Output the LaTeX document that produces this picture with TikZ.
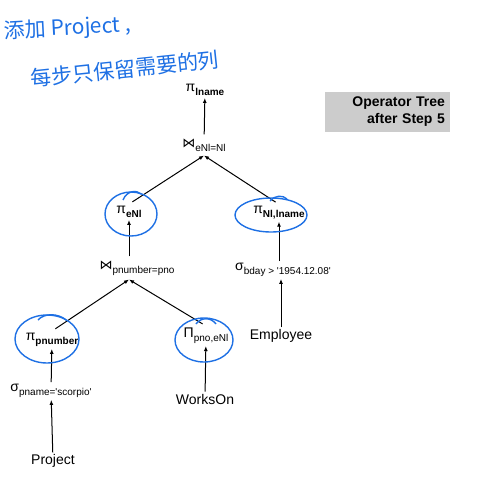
\documentclass[tikz,border=0pt]{standalone}
\usepackage{fontspec}
\setmainfont{Liberation Sans}
\newfontfamily\symfont{DejaVu Sans}
\newfontfamily\cjkhand{Noto Sans CJK SC}
\usetikzlibrary{arrows.meta, positioning, calc}
\definecolor{inkblue}{RGB}{30,112,228}
\definecolor{boxgray}{RGB}{204,204,204}
\newcommand{\lowsub}[1]{\raisebox{-4pt}{\fontsize{10}{12}\selectfont #1}}
\newcommand{\boldsub}[1]{\lowsub{\bfseries #1}}
\newcommand{\joinop}{{\symfont\fontsize{13}{15}\selectfont ⋈}}
\newcommand{\q}{\textquotesingle}

\begin{document}
\begin{tikzpicture}[
  x=1pt, y=-1pt,
  op/.style={font=\fontsize{14}{16}\selectfont, inner sep=2pt},
  jn/.style={op, inner sep=4pt},
  rel/.style={font=\fontsize{14}{16}\selectfont, inner sep=2pt},
  pr/.style={-{Latex[length=5pt, width=4pt]}, line width=1pt},
  ink/.style={draw=inkblue, line width=1.4pt},
  hand/.style={text=inkblue, font=\cjkhand\fontsize{21}{24}\selectfont, inner sep=0pt},
  tag/.style={fill=boxgray, font=\fontsize{14}{17}\selectfont\bfseries, align=right,
              text width=115pt, minimum height=40pt, inner sep=5pt}
]
  \useasboundingbox (0,0) rectangle (477,499);

  % handwritten note
  \node[hand, anchor=west, rotate=3] (note1) at (4,32) {添加 Project ,};
  \node[hand, rotate=6] (note2) at (125,69) {每步只保留需要的列};

  \node[tag] (title) at (387.5,112) {Operator Tree\\after Step 5};

  % operator tree
  \node[op] (plname) at (205,90) {π\boldsub{lname}};
  \node[jn] (join1) at (204,145) {\joinop\lowsub{eNl=Nl}};
  \node[op] (peNl) at (129,212) {π\boldsub{eNl}};
  \node[op] (pNl) at (279,213) {π\boldsub{Nl,lname}};
  \node[jn] (join2) at (137,268) {\joinop\lowsub{pnumber=pno}};
  \node[op] (sbday) at (283,270) {σ\lowsub{bday > \q1954.12.08\q}};
  \node[rel] (emp) at (281,336) {Employee};
  \node[op] (ppnum) at (52,340) {π\boldsub{pnumber}};
  \node[op] (ppno) at (206,336) {Π\lowsub{pno,eNl}};
  \node[op] (spname) at (51,391) {σ\lowsub{pname=\q scorpio\q}};
  \node[rel] (works) at (205,399) {WorksOn};
  \node[rel] (proj) at (53,461) {Project};

  \draw[pr] (join1) -- (plname);
  \draw[pr, shorten <=4pt] (peNl.north) -- (join1.south);
  \draw[pr, shorten <=4pt] (pNl.north) -- (join1.south);
  \draw[pr] (join2.north -| peNl) -- (peNl);
  \draw[pr] (sbday.north -| pNl) -- (pNl);
  \draw[pr] (emp) -- (emp |- sbday.south);
  \draw[pr, shorten <=4pt] (ppnum.north) -- (join2.south -| peNl);
  \draw[pr, shorten <=4pt] (ppno.north) -- (join2.south -| peNl);
  \draw[pr] (spname) -- (ppnum);
  \draw[pr] (works) -- (ppno);
  \draw[pr] (proj) -- (spname);

  % blue marks
  \draw[ink] ($(peNl)+(2,2)$) ellipse [x radius=26pt, y radius=22pt];
  \draw[ink] ($(peNl)+(-6,-12)$) .. controls ($(peNl)+(-2,-22)$) and ($(peNl)+(8,-22)$) .. ($(peNl)+(12,-18)$);
  \draw[ink] ($(pNl)+(-8,2)$) ellipse [x radius=36pt, y radius=17pt];
  \draw[ink] ($(pNl)+(-9,-12)$) .. controls ($(pNl)+(-4,-18)$) and ($(pNl)+(4,-18)$) .. ($(pNl)+(8,-14)$);
  \draw[ink] ($(ppnum)+(-5,-1)$) ellipse [x radius=32pt, y radius=24pt];
  \draw[ink] ($(ppnum)+(-14,-20)$) .. controls ($(ppnum)+(-8,-27)$) and ($(ppnum)+(6,-27)$) .. ($(ppnum)+(14,-20)$);
  \draw[ink] ($(ppno)+(-2,4)$) ellipse [x radius=29pt, y radius=22pt];
  \draw[ink] ($(ppno)+(-10,-12)$) .. controls ($(ppno)+(-5,-19)$) and ($(ppno)+(5,-19)$) .. ($(ppno)+(10,-12)$);
\end{tikzpicture}
\end{document}
